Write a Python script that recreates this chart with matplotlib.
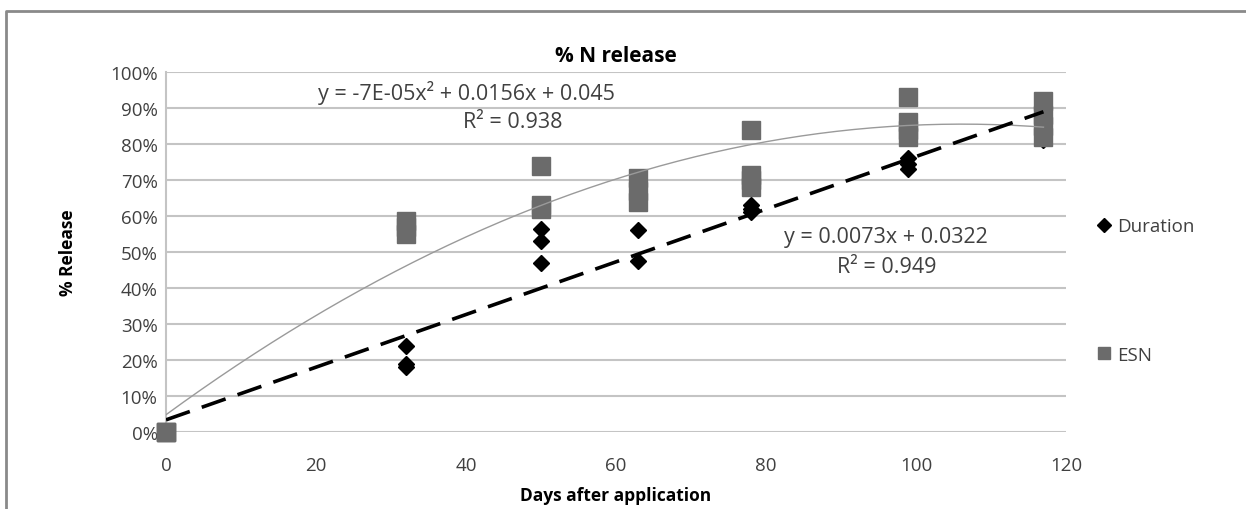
import numpy as np
import matplotlib.pyplot as plt
from matplotlib.lines import Line2D

plt.rcParams['font.family'] = ['Open Sans', 'DejaVu Sans']

# Duration (black diamonds), % release
dur_days = [0, 0, 0, 32, 32, 32, 50, 50, 50, 63, 63, 78, 78, 78, 99, 99, 99, 117, 117, 117]
dur_pct = [0, 0, 0, 24, 19, 18, 56.5, 53, 47, 56, 47.5, 61, 62, 63, 73, 74.5, 76, 81, 85, 88]

# ESN (gray squares), % release
esn_days = [0, 0, 0, 32, 32, 32, 50, 50, 50, 63, 63, 63, 78, 78, 78, 78, 99, 99, 99, 99, 117, 117, 117, 117]
esn_pct = [0, 0, 0, 55, 57, 58.5, 62, 63, 74, 64, 67, 70.5, 68, 70, 71.5, 84, 82, 84, 86, 93, 82, 85, 88, 92]

x_ticks = [0, 20, 40, 60, 80, 100, 120]
y_ticks = list(range(0, 101, 10))

dx = np.array(dur_days, float)
dy = np.array(dur_pct, float) / 100
ex = np.array(esn_days, float)
ey = np.array(esn_pct, float) / 100

lin = np.polyfit(dx, dy, 1)
quad = np.polyfit(ex, ey, 2)
xs = np.linspace(0, 117, 200)

fig = plt.figure(figsize=(12.46, 5.10), dpi=100)
ax = fig.add_axes([0.1332, 0.151, 0.7223, 0.706])

ax.plot(dx, dy, 'D', color='black', markersize=8, zorder=3, clip_on=False, label='Duration')
ax.plot(ex, ey, 's', color='#6b6b6b', markersize=13, zorder=4, clip_on=False, label='ESN')
ax.plot(xs, np.polyval(quad, xs), color='#9a9a9a', lw=1, zorder=5)
ax.plot(xs, np.polyval(lin, xs), color='black', lw=2.6, dashes=(7, 3.5), zorder=6)

ax.set_xlim(0, 120)
ax.set_ylim(0, 1)
ax.set_xticks(x_ticks)
ax.set_yticks([v / 100 for v in y_ticks])
ax.set_yticklabels(['%d%%' % v for v in y_ticks])
ax.tick_params(length=0, labelsize=13.5, colors='#404040')
ax.tick_params(axis='x', pad=17)
ax.tick_params(axis='y', pad=6)
ax.grid(axis='y', color='#c4c4c4', lw=1.5)
ax.set_axisbelow(True)
for s in ['top', 'right', 'bottom']:
    ax.spines[s].set_visible(False)
ax.spines['left'].set_color('#c4c4c4')
ax.spines['left'].set_linewidth(1.5)

ax.set_title('% N release', fontsize=15, fontweight='bold', pad=8)
ax.set_xlabel('Days after application', fontsize=12.5, fontweight='bold', labelpad=9)
ax.set_ylabel('% Release', fontsize=12.5, fontweight='bold', labelpad=24)

ax.text(40, 0.944, 'y = -7E-05x² + 0.0156x + 0.045', fontsize=15.5, color='#404040', ha='center', va='center')
ax.text(46.2, 0.861, 'R² = 0.938', fontsize=15.5, color='#404040', ha='center', va='center')
ax.text(96, 0.544, 'y = 0.0073x + 0.0322', fontsize=15.5, color='#404040', ha='center', va='center')
ax.text(96.1, 0.461, 'R² = 0.949', fontsize=15.5, color='#404040', ha='center', va='center')

handles = [Line2D([], [], marker='D', color='black', ls='', markersize=7),
           Line2D([], [], marker='s', color='#6b6b6b', ls='', markersize=9)]
fig.legend(handles, ['Duration', 'ESN'], loc='upper left', bbox_to_anchor=(0.868, 0.605),
           frameon=False, fontsize=13.5, labelspacing=5.9, handlelength=0.6,
           handletextpad=0.4, labelcolor='#404040')

# outer chart border (only top and left visible)
fig.add_artist(Line2D([0.005, 0.005, 1.0], [0.0, 0.977, 0.977], color='#8a8a8a', lw=2,
                      transform=fig.transFigure))

fig.savefig('out.png', dpi=100)
